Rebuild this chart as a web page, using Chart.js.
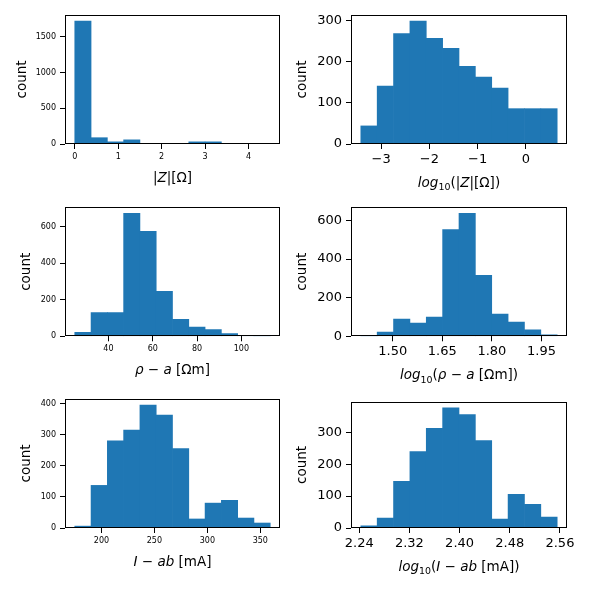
<!DOCTYPE html>
<html>
<head>
<meta charset="utf-8">
<script src="https://cdn.jsdelivr.net/npm/chart.js@4.4.0/dist/chart.umd.min.js"></script>
<style>
  body { margin: 0; background: #fff; }
  #fig { position: relative; width: 590px; height: 590px; }
  #fig canvas { position: absolute; }
</style>
</head>
<body>
<div id="fig">
  <canvas id="c1" width="290" height="195" style="left:0;top:0"></canvas>
  <canvas id="c2" width="300" height="195" style="left:290px;top:0"></canvas>
  <canvas id="c3" width="290" height="195" style="left:0;top:195px"></canvas>
  <canvas id="c4" width="300" height="195" style="left:290px;top:195px"></canvas>
  <canvas id="c5" width="290" height="200" style="left:0;top:390px"></canvas>
  <canvas id="c6" width="300" height="200" style="left:290px;top:390px"></canvas>
</div>
<script>
// histogram data: [first edge, last edge] and the 12 bin counts
var zRange = [0, 4.5];
var zCounts = [1717, 88, 30, 58, 0, 0, 1, 30, 30, 1, 0, 2];
var logZRange = [-3.42, 0.65];
var logZCounts = [44, 141, 269, 299, 257, 233, 189, 163, 136, 86, 86, 86];
var rhoRange = [24.8, 113];
var rhoCounts = [22, 130, 130, 673, 575, 247, 93, 50, 37, 15, 5, 1];
var logRhoRange = [1.4035, 1.9975];
var logRhoCounts = [1, 22, 89, 69, 100, 553, 636, 316, 115, 74, 33, 7];
var iRange = [174.8, 359.4];
var iCounts = [6, 137, 280, 315, 395, 363, 255, 29, 80, 89, 32, 16];
var logIRange = [2.2425, 2.5556];
var logICounts = [7, 31, 146, 240, 313, 377, 356, 274, 28, 106, 74, 34];

var FAM = '"DejaVu Sans"';

// box round the plot area, like matplotlib spines
var frame = {
    id: 'frame',
    afterDatasetsDraw: function (chart) {
        var a = chart.chartArea, c = chart.ctx;
        var l = Math.round(a.left) + 0.5, t = Math.round(a.top) + 0.5;
        var r = Math.round(a.right) - 0.5, b = Math.round(a.bottom) - 0.5;
        c.save();
        c.strokeStyle = '#000';
        c.lineWidth = 1;
        c.strokeRect(l, t, r - l, b - t);
        c.restore();
    }
};

// x label with italic / subscript pieces (mathtext look)
function xLabel(segs, gap, size) {
    return {
        id: 'xlabel',
        afterDraw: function (chart) {
            var c = chart.ctx, a = chart.chartArea;
            var fontOf = function (s) {
                return (s.it ? 'italic ' : '') + (s.sub ? size * 0.7 : size) + 'px ' + FAM;
            };
            var widths = [], total = 0;
            c.save();
            segs.forEach(function (s) {
                c.font = fontOf(s);
                var w = c.measureText(s.t).width;
                widths.push(w);
                total += w;
            });
            var x = (a.left + a.right) / 2 - total / 2;
            var y = a.bottom + gap;
            c.fillStyle = '#000';
            c.textAlign = 'left';
            c.textBaseline = 'alphabetic';
            segs.forEach(function (s, i) {
                c.font = fontOf(s);
                c.fillText(s.t, x, y + (s.sub ? size * 0.24 : 0));
                x += widths[i];
            });
            c.restore();
        }
    };
}

// ticks at every multiple of step inside [min, max]
function stepTicks(step) {
    return function (scale) {
        var out = [];
        for (var k = Math.ceil(scale.min / step - 1e-9); k * step <= scale.max + 1e-9; k++) {
            out.push({ value: Math.round(k * step * 1e6) / 1e6 });
        }
        scale.ticks = out;
    };
}

function makeHist(id, range, counts, o) {
    var lo = range[0], hi = range[1];
    var w = (hi - lo) / counts.length;
    var pts = counts.map(function (c, i) {
        return { x: lo + (i + 0.5) * w, y: c === 0 ? null : c };
    });
    var pad = 0.05 * (hi - lo);
    var ymax = 1.05 * Math.max.apply(null, counts);
    var xfmt = function (v) {
        var s = o.dec ? v.toFixed(o.dec) : String(Math.round(v));
        return s.replace('-', '\u2212');
    };
    var yfmt = function (v) { return String(Math.round(v)); };
    var tickFont = { family: FAM, size: o.tick };
    var tickGrid = {
        display: true, offset: false, drawOnChartArea: false,
        drawTicks: true, tickLength: 5, color: '#000'
    };

    new Chart(document.getElementById(id), {
        type: 'bar',
        data: {
            datasets: [{
                data: pts,
                backgroundColor: '#1f77b4',
                borderWidth: 0,
                barPercentage: 1,
                categoryPercentage: 1
            }]
        },
        options: {
            responsive: false,
            animation: false,
            devicePixelRatio: 1,
            layout: { padding: { top: o.top, right: o.right, left: 0, bottom: 0 } },
            plugins: { legend: { display: false }, tooltip: { enabled: false } },
            scales: {
                x: {
                    type: 'linear',
                    min: lo - pad,
                    max: hi + pad,
                    offset: false,
                    grid: tickGrid,
                    border: { display: false },
                    ticks: {
                        autoSkip: false, maxRotation: 0,
                        padding: 3, color: '#000', font: tickFont, callback: xfmt
                    },
                    afterBuildTicks: stepTicks(o.xStep),
                    afterFit: function (s) { s.height = o.xh; }
                },
                y: {
                    min: 0,
                    max: ymax,
                    grid: tickGrid,
                    border: { display: false },
                    ticks: {
                        autoSkip: false,
                        padding: 4, color: '#000', font: tickFont, callback: yfmt
                    },
                    afterBuildTicks: stepTicks(o.yStep),
                    title: {
                        display: true, text: 'count', color: '#000',
                        font: { family: FAM, size: 13.5 },
                        padding: { top: o.tp, bottom: 0 }
                    },
                    afterFit: function (s) { s.width = o.yw; }
                }
            }
        },
        plugins: [frame, xLabel(o.label, o.gap, 13.5)]
    });
}

var small = { tick: 8, yw: 65, right: 10, gap: 38 };
var big = { tick: 13, yw: 61, right: 23, gap: 43 };

makeHist('c1', zRange, zCounts, Object.assign({}, small, {
    top: 15, xh: 51, tp: 13.9, xStep: 1, yStep: 500,
    label: [{ t: '|' }, { t: 'Z', it: true }, { t: '|[\u03a9]' }]
}));
makeHist('c2', logZRange, logZCounts, Object.assign({}, big, {
    top: 15, xh: 51, tp: 3.9, xStep: 1, yStep: 100,
    label: [{ t: 'log', it: true }, { t: '10', sub: true }, { t: '(|' }, { t: 'Z', it: true }, { t: '|[\u03a9])' }]
}));
makeHist('c3', rhoRange, rhoCounts, Object.assign({}, small, {
    top: 12.3, xh: 53.7, tp: 18.6, xStep: 20, yStep: 200,
    label: [{ t: '\u03c1', it: true }, { t: ' \u2212 ' }, { t: 'a', it: true }, { t: ' [\u03a9m]' }]
}));
makeHist('c4', logRhoRange, logRhoCounts, Object.assign({}, big, {
    top: 12.3, xh: 53.7, tp: 3.9, xStep: 0.15, yStep: 200, dec: 2,
    label: [{ t: 'log', it: true }, { t: '10', sub: true }, { t: '(' }, { t: '\u03c1', it: true },
            { t: ' \u2212 ' }, { t: 'a', it: true }, { t: ' [\u03a9m])' }]
}));
makeHist('c5', iRange, iCounts, Object.assign({}, small, {
    top: 9, xh: 62, tp: 18.6, xStep: 50, yStep: 100,
    label: [{ t: 'I', it: true }, { t: ' \u2212 ' }, { t: 'ab', it: true }, { t: ' [mA]' }]
}));
makeHist('c6', logIRange, logICounts, Object.assign({}, big, {
    top: 9, xh: 62, tp: 3.9, xStep: 0.08, yStep: 100, dec: 2,
    label: [{ t: 'log', it: true }, { t: '10', sub: true }, { t: '(' }, { t: 'I', it: true },
            { t: ' \u2212 ' }, { t: 'ab', it: true }, { t: ' [mA])' }]
}));
</script>
</body>
</html>
